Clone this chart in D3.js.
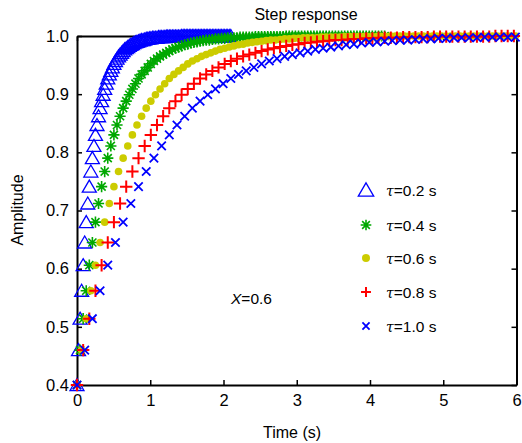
<!DOCTYPE html>
<html>
<head>
<meta charset="utf-8">
<script src="https://cdn.jsdelivr.net/npm/d3@7"></script>
<style>
body{margin:0;background:#fff;}
text{font-family:"Liberation Sans",Arial,sans-serif;fill:#000;}
</style>
</head>
<body>
<svg id="svg" width="522" height="443"></svg>
<script>
// time constants of the five curves
var taus=[0.2,0.4,0.6,0.8,1.0];
var labels=['0.2','0.4','0.6','0.8','1.0'];
// sampling interval of each curve (s)
var timeStep=[0.021,0.042,0.063,0.084,0.105];
// amplitude at sample k (the same levels are hit by every curve)
var amplitude=[
	0.400,0.460,0.514,0.562,0.606,0.645,0.680,0.712,0.741,0.767,
	0.790,0.811,0.830,0.847,0.862,0.876,0.888,0.899,0.909,0.918,
	0.927,0.934,0.940,0.946,0.952,0.957,0.961,0.965,0.968,0.971,
	0.974,0.977,0.979,0.981,0.983,0.985,0.986,0.988,0.989,0.990,
	0.991,0.992,0.993,0.993,0.994,0.995,0.995,0.996,0.996,0.997,
	0.997,0.997,0.997,0.998,0.998,0.998,0.998,0.998,0.999,0.999,
	0.999,0.999,0.999,0.999,0.999,0.999,0.999,0.999,1.000,1.000,
	1.000,1.000,1.000,1.000,1.000,1.000,1.000,1.000,1.000,1.000,
	1.000,1.000,1.000,1.000,1.000,1.000,1.000,1.000,1.000,1.000,
	1.000,1.000,1.000,1.000,1.000,1.000,1.000,1.000,1.000,1.000,
	1.000
];
var xticks=[0,1,2,3,4,5,6];
var yticks=[0.4,0.5,0.6,0.7,0.8,0.9,1.0];

var colors=['#0000ff','#00a800','#cccc00','#ff0000','#0000ff'];
var shapes=['triangle','star','dot','plus','cross'];

var svg=d3.select("#svg");

var box={left:77,right:516.5,top:36,bottom:385};

var xscale=d3.scaleLinear().domain([0,6]).range([box.left,box.right]);
var yscale=d3.scaleLinear().domain([0.4,1.0]).range([box.bottom,box.top]);

//marker drawing, s = scale factor
function marker(g,shape,color,s){
	if(shape=='triangle'){
		g.append("path").attr("d","M0,"+(-6.5*s)+"L"+(7*s)+","+(5.5*s)+"L"+(-7*s)+","+(5.5*s)+"Z")
		.attr("fill","none").attr("stroke",color).attr("stroke-width",1.3);
	}else if(shape=='star'){
		var r=5.6*s,q=r*0.72;
		g.append("path").attr("d","M"+(-r)+",0L"+r+",0M0,"+(-r)+"L0,"+r+"M"+(-q)+","+(-q)+"L"+q+","+q+"M"+(-q)+","+q+"L"+q+","+(-q))
		.attr("stroke",color).attr("stroke-width",1.6).attr("fill","none");
	}else if(shape=='dot'){
		g.append("circle").attr("r",3.8*s).attr("fill",color);
	}else if(shape=='plus'){
		var p=6.2*s;
		g.append("path").attr("d","M"+(-p)+",0L"+p+",0M0,"+(-p)+"L0,"+p)
		.attr("stroke",color).attr("stroke-width",2).attr("fill","none");
	}else{
		var c=4.2*s;
		g.append("path").attr("d","M"+(-c)+","+(-c)+"L"+c+","+c+"M"+(-c)+","+c+"L"+c+","+(-c))
		.attr("stroke",color).attr("stroke-width",1.8).attr("fill","none");
	}
}

// axes box with inward ticks
var axes=svg.append("g");
axes.append("g").attr("transform","translate(0,"+box.bottom+")")
.call(d3.axisBottom(xscale).tickValues(xticks).tickSizeInner(-5).tickSizeOuter(0).tickPadding(9).tickFormat(d3.format("d")));
axes.append("g").attr("transform","translate(0,"+box.top+")")
.call(d3.axisTop(xscale).tickValues(xticks).tickSizeInner(-5).tickSizeOuter(0).tickFormat(""));
axes.append("g").attr("transform","translate("+box.left+",0)")
.call(d3.axisLeft(yscale).tickValues(yticks).tickSizeInner(-5).tickSizeOuter(0).tickPadding(8).tickFormat(d3.format(".1f")));
axes.append("g").attr("transform","translate("+box.right+",0)")
.call(d3.axisRight(yscale).tickValues(yticks).tickSizeInner(-5).tickSizeOuter(0).tickFormat(""));
axes.selectAll(".domain").attr("stroke","#000").attr("stroke-width",2);
axes.selectAll(".tick line").attr("stroke","#000").attr("stroke-width",1.5);
axes.selectAll(".tick text").style("font-size","16.5px").attr("fill","#000");

// curves
taus.forEach(function(tau,i){
	var pts=[];
	amplitude.forEach(function(a,k){
		var t=k*timeStep[i];
		if(t<=6.0001) pts.push({t:t,a:a});
	});
	var grp=svg.append("g");
	grp.selectAll("g").data(pts).enter()
	.append("g")
	.attr("transform",function(d){return "translate("+xscale(d.t)+","+yscale(d.a)+")";})
	.each(function(){marker(d3.select(this),shapes[i],colors[i],1);});
});

// legend
var legendY=[190,225,258,292,326];
var legendSize=[1.1,0.95,1.05,0.8,0.85];
labels.forEach(function(l,i){
	var g=svg.append("g").attr("transform","translate(366,"+legendY[i]+")");
	marker(g,shapes[i],colors[i],legendSize[i]);
	var t=svg.append("text").attr("x",386).attr("y",legendY[i]+5.5).style("font-size","15.5px");
	t.append("tspan").style("font-style","italic").style("font-family","'DejaVu Serif',serif").style("font-size","14px").text("\u03c4");
	t.append("tspan").text("="+l+" s");
});

// annotation
var ann=svg.append("text").attr("x",231).attr("y",304).style("font-size","15.5px");
ann.append("tspan").style("font-style","italic").text("X");
ann.append("tspan").text("=0.6");

// titles
svg.append("text").attr("x",306).attr("y",20).attr("text-anchor","middle").style("font-size","16px").text("Step response");
svg.append("text").attr("x",292).attr("y",438).attr("text-anchor","middle").style("font-size","16px").text("Time (s)");
svg.append("text").attr("transform","translate(23,210) rotate(-90)").attr("text-anchor","middle").style("font-size","16px").text("Amplitude");
</script>
</body>
</html>
